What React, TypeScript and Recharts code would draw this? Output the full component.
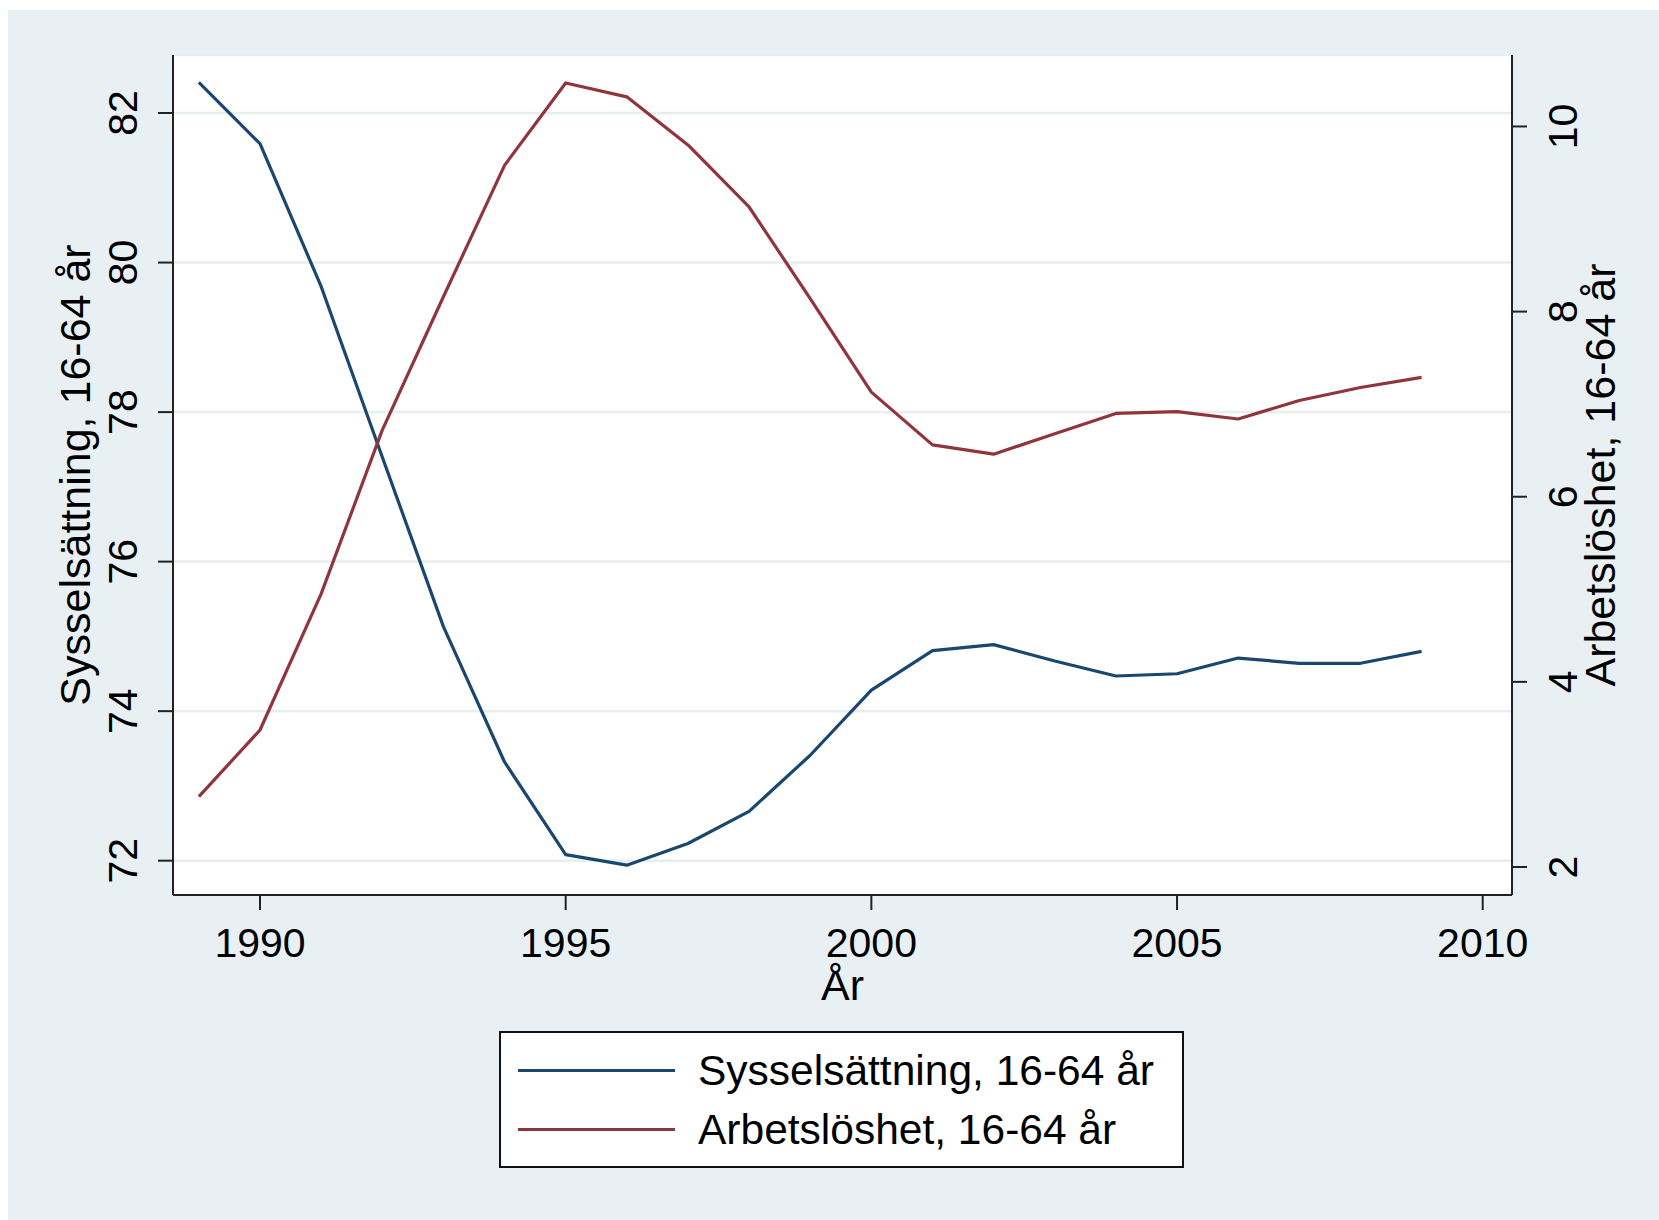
import { CartesianGrid, Line, LineChart, XAxis, YAxis } from "recharts"

const YEARS = [
  1989, 1990, 1991, 1992, 1993, 1994, 1995, 1996, 1997, 1998, 1999, 2000, 2001, 2002, 2003, 2004, 2005, 2006, 2007,
  2008, 2009,
]

// Sysselsättning, 16-64 år (vänster axel)
const SYSSELSATTNING = [
  82.41, 81.59, 79.68, 77.4, 75.13, 73.32, 72.08, 71.94, 72.23, 72.66, 73.41, 74.28, 74.81, 74.89, 74.67, 74.47, 74.5,
  74.71, 74.64, 74.64, 74.8,
]

// Arbetslöshet, 16-64 år (höger axel)
const ARBETSLOSHET = [
  2.76, 3.48, 4.95, 6.72, 8.16, 9.58, 10.47, 10.32, 9.8, 9.13, 8.14, 7.13, 6.56, 6.46, 6.68, 6.9, 6.92, 6.84, 7.04,
  7.18, 7.29,
]

const X_TICKS = [1990, 1995, 2000, 2005, 2010]
const LEFT_TICKS = [72, 74, 76, 78, 80, 82]
const RIGHT_TICKS = [2, 4, 6, 8, 10]

const SERIES = [
  { key: "syss", name: "Sysselsättning, 16-64 år", color: "#1a476f", axis: "left" },
  { key: "arb", name: "Arbetslöshet, 16-64 år", color: "#90353b", axis: "right" },
]

const FONT = '"Liberation Sans", Arial, sans-serif'
const AXIS_COLOR = "#222"

const data = YEARS.map((year, i) => ({
  year,
  syss: SYSSELSATTNING[i],
  arb: ARBETSLOSHET[i],
}))

const RotatedTick = (props: any) => {
  const { x, y, payload } = props
  return (
    <text
      x={x}
      y={y}
      transform={`rotate(-90 ${x} ${y})`}
      textAnchor="middle"
      fontSize={41}
      fill="#000"
      fontFamily={FONT}
    >
      {payload.value}
    </text>
  )
}

const axisTitle = (text: string, dx: number) => (props: any) => {
  const vb = props.viewBox
  const cx = vb.x + dx
  const cy = vb.y + vb.height / 2
  return (
    <text
      x={cx}
      y={cy}
      transform={`rotate(-90 ${cx} ${cy})`}
      textAnchor="middle"
      fontSize={43}
      fill="#000"
      fontFamily={FONT}
    >
      {text}
    </text>
  )
}

export default function App() {
  return (
    <div style={{ position: "absolute", left: 0, top: 0, width: 1659, height: 1220, background: "#fff" }}>
      <div
        style={{
          position: "absolute",
          left: 8,
          top: 10,
          right: 0,
          bottom: 0,
          background: "#e9f0f3",
        }}
      />
      <div style={{ position: "absolute", left: 0, top: 0 }}>
        <LineChart width={1659} height={1220} data={data} margin={{ top: 55, right: 27, bottom: 225, left: 0 }}>
          <CartesianGrid
            yAxisId="left"
            vertical={false}
            fill="#fff"
            stroke="#e6eeee"
            strokeWidth={2.5}
          />
          <XAxis
            dataKey="year"
            type="number"
            domain={[1988.577, 2010.479]}
            allowDataOverflow
            ticks={X_TICKS}
            interval={0}
            height={100}
            tickSize={15}
            tickMargin={18}
            tick={{ fill: "#000", fontSize: 41, fontFamily: FONT }}
            tickLine={{ stroke: AXIS_COLOR, strokeWidth: 2 }}
            axisLine={{ stroke: AXIS_COLOR, strokeWidth: 2 }}
            label={{ value: "År", position: "insideTop", offset: 74, fontSize: 43, fill: "#000", fontFamily: FONT }}
          />
          <YAxis
            yAxisId="left"
            orientation="left"
            type="number"
            width={173}
            domain={[71.541, 82.776]}
            allowDataOverflow
            ticks={LEFT_TICKS}
            interval={0}
            tickSize={15}
            tickMargin={21}
            tick={<RotatedTick />}
            tickLine={{ stroke: AXIS_COLOR, strokeWidth: 2 }}
            axisLine={{ stroke: AXIS_COLOR, strokeWidth: 2 }}
            label={{ content: axisTitle(SERIES[0].name, 90) }}
          />
          <YAxis
            yAxisId="right"
            orientation="right"
            type="number"
            width={120}
            domain={[1.6975, 10.772]}
            allowDataOverflow
            ticks={RIGHT_TICKS}
            interval={0}
            tickSize={15}
            tickMargin={50}
            tick={<RotatedTick />}
            tickLine={{ stroke: AXIS_COLOR, strokeWidth: 2 }}
            axisLine={{ stroke: AXIS_COLOR, strokeWidth: 2 }}
            label={{ content: axisTitle(SERIES[1].name, 103) }}
          />
          {SERIES.map((s) => (
            <Line
              key={s.key}
              yAxisId={s.axis}
              dataKey={s.key}
              name={s.name}
              type="linear"
              stroke={s.color}
              strokeWidth={3.2}
              strokeLinejoin="round"
              dot={false}
              activeDot={false}
              isAnimationActive={false}
            />
          ))}
        </LineChart>
      </div>
      <div
        style={{
          position: "absolute",
          left: 499,
          top: 1031,
          width: 685,
          height: 137,
          boxSizing: "border-box",
          border: "2px solid #111",
          background: "#fff",
          paddingTop: 8,
          fontFamily: FONT,
          fontSize: 42.5,
          color: "#000",
        }}
      >
        {SERIES.map((s) => (
          <div key={s.key} style={{ display: "flex", alignItems: "center", height: 59 }}>
            <div style={{ marginLeft: 17, width: 157, height: 3, background: s.color }} />
            <span style={{ marginLeft: 23, whiteSpace: "nowrap" }}>{s.name}</span>
          </div>
        ))}
      </div>
    </div>
  )
}
